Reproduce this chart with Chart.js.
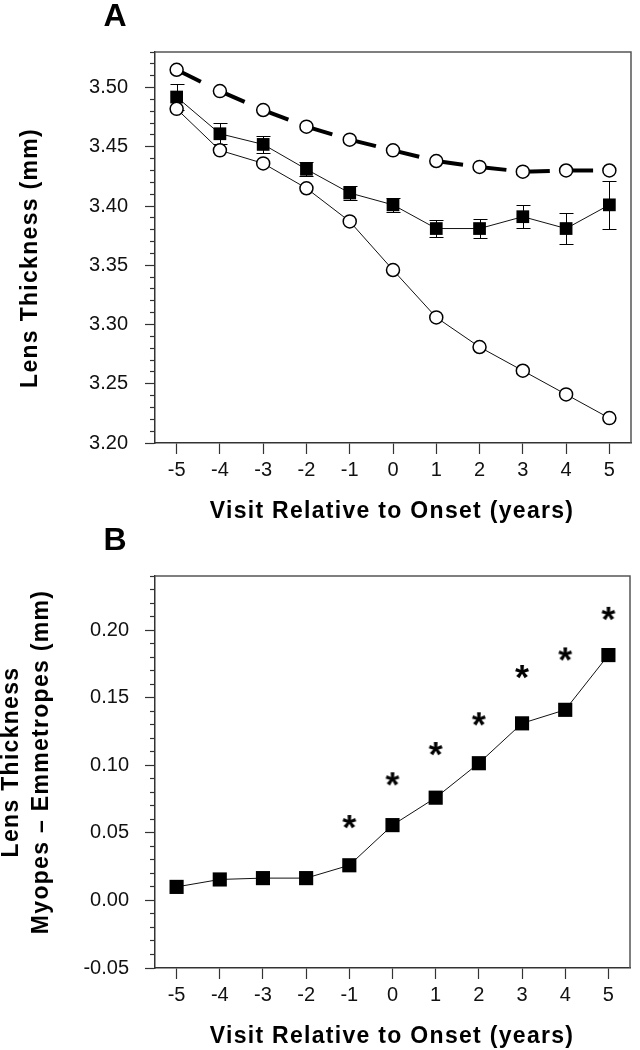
<!DOCTYPE html>
<html>
<head>
<meta charset="utf-8">
<script src="https://cdn.jsdelivr.net/npm/chart.js@4.4.1/dist/chart.umd.min.js"></script>
<style>
html, body { margin: 0; padding: 0; background: #fff; }
canvas { display: block; }
</style>
</head>
<body>
<canvas id="chartA" width="640" height="525"></canvas>
<canvas id="chartB" width="640" height="525"></canvas>
<script>
// visits relative to onset (years)
const visits = [-5, -4, -3, -2, -1, 0, 1, 2, 3, 4, 5];

// panel A, lens thickness (mm)
const dashedCircles = [3.515, 3.497, 3.481, 3.467, 3.456, 3.447, 3.438, 3.433, 3.429, 3.430, 3.430];
const squareMeans = [3.492, 3.461, 3.452, 3.431, 3.411, 3.401, 3.381, 3.381, 3.391, 3.381, 3.401];
const squareErrors = [0.011, 0.009, 0.007, 0.006, 0.006, 0.006, 0.007, 0.008, 0.0095, 0.013, 0.020];
const solidCircles = [3.482, 3.447, 3.436, 3.415, 3.387, 3.346, 3.306, 3.281, 3.261, 3.241, 3.221];

// panel B, myopes - emmetropes (mm)
const differences = [0.010, 0.0155, 0.0165, 0.0165, 0.026, 0.0557, 0.076, 0.1015, 0.131, 0.141, 0.1815];
const starVisits = [-1, 0, 1, 2, 3, 4, 5];
const starHeights = [0.058, 0.0896, 0.112, 0.134, 0.169, 0.182, 0.212];

const xTitle = 'Visit Relative to Onset (years)';
const yTitleA = 'Lens Thickness (mm)';
const yTitleB = ['Lens Thickness', 'Myopes \u2013 Emmetropes (mm)'];

const FONT = 'Arial, "Liberation Sans", sans-serif';
Chart.defaults.font.family = FONT;
Chart.defaults.color = '#111';

const pts = (xs, ys) => xs.map((x, i) => ({ x, y: ys[i] }));
const isMajor = v => Math.abs(Math.round(v * 100)) % 5 === 0;
const fmt = v => Math.abs(v) < 1e-9 ? '0.00' : v.toFixed(2);

function makeAsterisk(w) {
	const c = document.createElement('canvas');
	const size = 26;
	c.width = size; c.height = size;
	const g = c.getContext('2d');
	g.font = 'bold 100px ' + FONT;
	let m = g.measureText('*');
	const fs = 100 * w / (m.actualBoundingBoxRight + m.actualBoundingBoxLeft);
	g.font = 'bold ' + fs + 'px ' + FONT;
	m = g.measureText('*');
	const bw = m.actualBoundingBoxRight + m.actualBoundingBoxLeft;
	const bh = m.actualBoundingBoxAscent + m.actualBoundingBoxDescent;
	g.fillStyle = '#000';
	g.fillText('*', size / 2 - bw / 2 + m.actualBoundingBoxLeft, size / 2 - bh / 2 + m.actualBoundingBoxAscent);
	return c;
}

// error bars for the squares, drawn under the markers
const errorBars = (xs, ys, errs) => ({
	id: 'errorBars',
	beforeDatasetsDraw(chart) {
		const { ctx, scales: { x, y } } = chart;
		ctx.save();
		ctx.strokeStyle = '#000';
		ctx.lineWidth = 1;
		xs.forEach((v, i) => {
			const px = Math.round(x.getPixelForValue(v)) + 0.5;
			const top = Math.round(y.getPixelForValue(ys[i] + errs[i])) + 0.5;
			const bot = Math.round(y.getPixelForValue(ys[i] - errs[i])) + 0.5;
			ctx.beginPath();
			ctx.moveTo(px, top); ctx.lineTo(px, bot);
			ctx.moveTo(px - 7, top); ctx.lineTo(px + 7, top);
			ctx.moveTo(px - 7, bot); ctx.lineTo(px + 7, bot);
			ctx.stroke();
		});
		ctx.restore();
	}
});

// top/right frame, panel letter and axis titles
const decorations = (letter, yLines) => ({
	id: 'decorations',
	beforeDatasetsDraw(chart) {
		const { ctx, chartArea: a } = chart;
		ctx.save();
		ctx.strokeStyle = '#555';
		ctx.lineWidth = 1.5;
		ctx.beginPath();
		ctx.moveTo(a.left, a.top); ctx.lineTo(a.right, a.top); ctx.lineTo(a.right, a.bottom);
		ctx.stroke();
		ctx.restore();
	},
	afterDraw(chart) {
		const { ctx } = chart;
		ctx.save();
		ctx.fillStyle = '#000';
		ctx.textAlign = 'center';
		ctx.textBaseline = 'middle';
		ctx.font = 'bold 32px ' + FONT;
		ctx.fillText(letter.text, letter.x, letter.y);
		ctx.font = 'bold 23px ' + FONT;
		ctx.letterSpacing = '1.3px';
		ctx.fillText(xTitle, 392, 512);
		yLines.forEach(l => {
			ctx.save();
			ctx.translate(l.x, l.y);
			ctx.rotate(-Math.PI / 2);
			ctx.fillText(l.text, 0, 0);
			ctx.restore();
		});
		ctx.restore();
	}
});

function xScale() {
	return {
		type: 'linear',
		min: -5.5,
		max: 5.5,
		afterBuildTicks: s => { s.ticks = visits.map(v => ({ value: v })); },
		afterFit: s => { s.height = 82; },
		border: { color: '#333', width: 1.5 },
		grid: { drawOnChartArea: false, tickLength: 11, tickColor: '#333', tickWidth: 1.2 },
		ticks: { autoSkip: false, padding: 4, color: '#111', font: { size: 20 }, callback: v => String(v) }
	};
}

function yScale(min, max, pad) {
	return {
		type: 'linear',
		min, max,
		afterFit: s => { s.width = 155; },
		border: { color: '#333', width: 1.5 },
		grid: {
			drawOnChartArea: false,
			tickLength: 10,
			tickColor: '#333',
			tickWidth: 1.2,
			tickBorderDash: c => (c.tick && isMajor(c.tick.value)) ? [] : [5, 5],
			tickBorderDashOffset: c => (c.tick && isMajor(c.tick.value)) ? 0 : 5
		},
		ticks: {
			stepSize: 0.01, maxTicksLimit: 100, autoSkip: false, padding: pad,
			color: '#111', font: { size: 20 },
			callback: v => isMajor(v) ? fmt(v) : ''
		}
	};
}

const baseOptions = (top, ys) => ({
	responsive: false,
	animation: false,
	events: [],
	devicePixelRatio: 1,
	layout: { padding: { left: 0, right: 2, top, bottom: 0 } },
	plugins: { legend: { display: false }, tooltip: { enabled: false } },
	scales: { x: xScale(), y: ys }
});

new Chart(document.getElementById('chartA'), {
	type: 'scatter',
	data: {
		datasets: [
			{
				data: pts(visits, solidCircles),
				showLine: true,
				borderColor: '#111',
				borderWidth: 1,
				pointStyle: 'circle',
				pointRadius: 6.5,
				pointBorderWidth: 1.5,
				pointBorderColor: '#000',
				pointBackgroundColor: '#fff'
			},
			{
				data: pts(visits, squareMeans),
				showLine: true,
				borderColor: '#111',
				borderWidth: 1,
				pointStyle: 'rect',
				pointRadius: 9,
				pointBorderWidth: 0,
				pointBackgroundColor: '#000'
			},
			{
				data: pts(visits, dashedCircles),
				showLine: true,
				borderColor: '#000',
				borderWidth: 4,
				borderDash: [27, 60],
				borderCapStyle: 'butt',
				// restart the dash at every point
				segment: { borderDashOffset: c => (c.p0DataIndex % 2) ? 0.001 : 0 },
				pointStyle: 'circle',
				pointRadius: 6.5,
				pointBorderWidth: 1.5,
				pointBorderColor: '#000',
				pointBackgroundColor: '#fff'
			}
		]
	},
	options: baseOptions(52, yScale(3.20, 3.53, 17)),
	plugins: [
		errorBars(visits, squareMeans, squareErrors),
		decorations({ text: 'A', x: 115, y: 17 }, [{ text: yTitleA, x: 31, y: 258 }])
	]
});

new Chart(document.getElementById('chartB'), {
	type: 'scatter',
	data: {
		datasets: [
			{
				data: pts(visits, differences),
				showLine: true,
				borderColor: '#111',
				borderWidth: 1,
				pointStyle: 'rect',
				pointRadius: 10,
				pointBorderWidth: 0,
				pointBackgroundColor: '#000'
			},
			{
				data: pts(starVisits, starHeights),
				showLine: false,
				pointStyle: makeAsterisk(14),
				pointRadius: 8
			}
		]
	},
	options: baseOptions(51, yScale(-0.05, 0.24, 16)),
	plugins: [
		decorations({ text: 'B', x: 115, y: 16 }, [
			{ text: yTitleB[0], x: 12, y: 237 },
			{ text: yTitleB[1], x: 42, y: 237 }
		])
	]
});
</script>
</body>
</html>
